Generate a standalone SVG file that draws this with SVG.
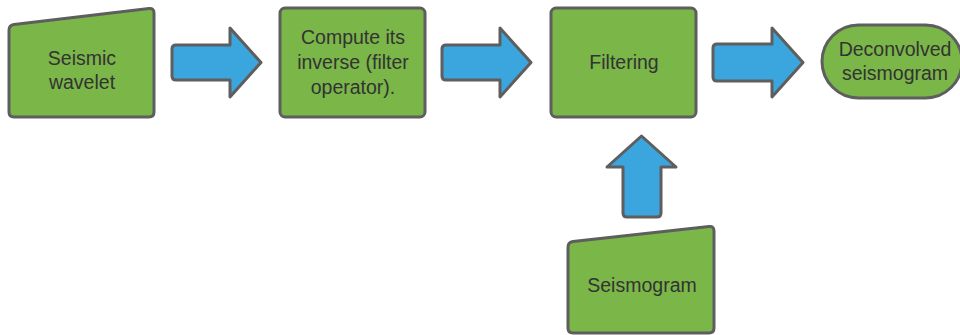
<svg xmlns="http://www.w3.org/2000/svg" width="960" height="335" viewBox="0 0 960 335">
<style>
.node{fill:#7ab648;stroke:#5e5e5e;stroke-width:3;stroke-linejoin:round}
.arr{fill:#3aa6dd;stroke:#5e5e5e;stroke-width:3;stroke-linejoin:round}
text{font-family:"Liberation Sans",Arial,sans-serif;font-size:19.5px;fill:#333333;text-anchor:middle}
</style>
<rect width="960" height="335" fill="#ffffff"/>
<g id="seismic-wavelet">
<path class="node" d="M9,30 Q9,25 14,24.4 L149,8.6 Q154,8 154,13 L154,112 Q154,117 149,117 L14,117 Q9,117 9,112 Z"/>
<text x="82" y="65">Seismic</text>
<text x="82" y="89">wavelet</text>
</g>
<g id="compute-inverse">
<rect class="node" x="280" y="8" width="145" height="109" rx="5"/>
<text x="353" y="44">Compute its</text>
<text x="353" y="69">inverse (filter</text>
<text x="353" y="94">operator).</text>
</g>
<g id="filtering">
<rect class="node" x="551" y="8" width="145" height="109" rx="5"/>
<text x="624" y="69">Filtering</text>
</g>
<g id="deconvolved-seismogram">
<rect class="node" x="822" y="25" width="140" height="73" rx="36.5"/>
<text x="895" y="56">Deconvolved</text>
<text x="895" y="80">seismogram</text>
</g>
<g id="seismogram">
<path class="node" d="M568,247 Q568,242 573,241.4 L709,226.6 Q714,226 714,231 L714,328 Q714,333 709,333 L573,333 Q568,333 568,328 Z"/>
<text x="642" y="292">Seismogram</text>
</g>
<g id="connectors">
<path class="arr" d="M176,45 L230,45 L230,28 L261,62.5 L230,97 L230,80 L176,80 Q172,80 172,76 L172,49 Q172,45 176,45 Z"/>
<path class="arr" d="M446,45 L500,45 L500,28 L531,62.5 L500,97 L500,80 L446,80 Q442,80 442,76 L442,49 Q442,45 446,45 Z"/>
<path class="arr" d="M717,44 L772,44 L772,28 L803,62.5 L772,97 L772,81 L717,81 Q713,81 713,77 L713,48 Q713,44 717,44 Z"/>
<path class="arr" d="M641.5,136 L676,167 L661,167 L661,213 Q661,217 657,217 L627,217 Q623,217 623,213 L623,167 L607,167 Z"/>
</g>
</svg>
